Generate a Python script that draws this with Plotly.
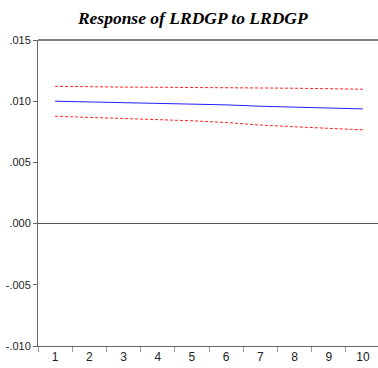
import plotly.graph_objects as go

periods = ["1", "2", "3", "4", "5", "6", "7", "8", "9", "10"]
response = [0.01000, 0.00995, 0.00989, 0.00983, 0.00978, 0.00970, 0.00959, 0.00951, 0.00943, 0.00937]
upper_band = [0.01122, 0.01117, 0.01115, 0.01114, 0.01113, 0.01112, 0.01110, 0.01106, 0.01102, 0.01098]
lower_band = [0.00877, 0.00869, 0.00861, 0.00849, 0.00840, 0.00826, 0.00805, 0.00791, 0.00779, 0.00766]

y_tickvals = [0.015, 0.010, 0.005, 0.000, -0.005, -0.010]
y_ticktext = [".015", ".010", ".005", ".000", "-.005", "-.010"]

axis_col = "#666666"

fig = go.Figure()
fig.add_trace(go.Scatter(x=periods, y=upper_band, mode="lines",
                         line=dict(color="#ff2020", width=1, dash="3px,2px"),
                         showlegend=False))
fig.add_trace(go.Scatter(x=periods, y=lower_band, mode="lines",
                         line=dict(color="#ff2020", width=1, dash="3px,2px"),
                         showlegend=False))
fig.add_trace(go.Scatter(x=periods, y=response, mode="lines",
                         line=dict(color="#2020ff", width=1),
                         showlegend=False))

fig.update_layout(
    width=378, height=368,
    margin=dict(l=38, r=0, t=40, b=22),
    paper_bgcolor="white", plot_bgcolor="white",
    title=dict(text="Response of LRDGP to LRDGP",
               font=dict(family="Liberation Serif", size=17.5, color="black",
                         weight="bold", style="italic"),
               x=0.51, xanchor="center", y=0.968, yanchor="top"),
    xaxis=dict(type="category", range=[-0.5, 9.44], tickson="boundaries",
               ticks="outside", ticklen=5, tickcolor="#999999", tickwidth=1,
               showline=True, linecolor=axis_col, linewidth=1,
               showgrid=False, zeroline=False,
               tickfont=dict(family="Liberation Sans", size=12, color="#222222")),
    yaxis=dict(range=[-0.010, 0.015], tickvals=y_tickvals, ticktext=y_ticktext,
               ticks="outside", ticklen=4, tickcolor=axis_col, tickwidth=1,
               showline=True, linecolor=axis_col, linewidth=1,
               showgrid=False, zeroline=True, zerolinecolor="#555555", zerolinewidth=1,
               tickfont=dict(family="Liberation Sans", size=11, color="#222222")),
)

# frame line along the top edge of the plot area
fig.add_shape(type="line", xref="paper", yref="paper", x0=0, x1=1, y0=1, y1=1,
              line=dict(color="#555555", width=1.5))

fig.write_html("out.html")
